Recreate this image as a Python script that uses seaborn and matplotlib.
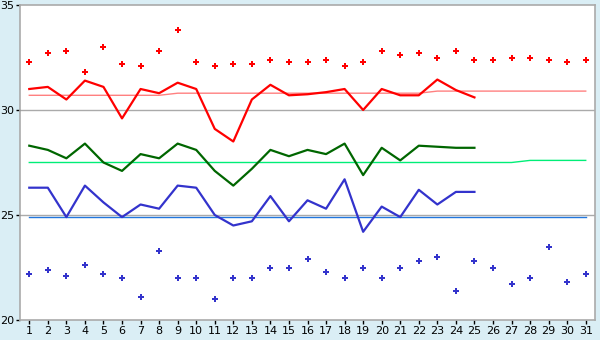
import numpy as np
import pandas as pd
from matplotlib import pyplot as plt
import seaborn as sns

days = list(range(1, 32))

# daily record highs (red dots) and record lows (blue dots)
rec_high = [32.3, 32.7, 32.8, 31.8, 33.0, 32.2, 32.1, 32.8, 33.8, 32.3,
            32.1, 32.2, 32.2, 32.4, 32.3, 32.3, 32.4, 32.1, 32.3, 32.8,
            32.6, 32.7, 32.5, 32.8, 32.4, 32.4, 32.5, 32.5, 32.4, 32.3, 32.4]
rec_low = [22.2, 22.4, 22.1, 22.6, 22.2, 22.0, 21.1, 23.3, 22.0, 22.0,
           21.0, 22.0, 22.0, 22.5, 22.5, 22.9, 22.3, 22.0, 22.5, 22.0,
           22.5, 22.8, 23.0, 21.4, 22.8, 22.5, 21.7, 22.0, 23.5, 21.8, 22.2]

# observed max / mean / min (days 1-25)
obs_days = list(range(1, 26))
obs_max = [31.0, 31.1, 30.5, 31.4, 31.1, 29.6, 31.0, 30.8, 31.3, 31.0,
           29.1, 28.5, 30.5, 31.2, 30.7, 30.75, 30.85, 31.0, 30.0, 31.0,
           30.7, 30.7, 31.45, 30.95, 30.6]
obs_mean = [28.3, 28.1, 27.7, 28.4, 27.5, 27.1, 27.9, 27.7, 28.4, 28.1,
            27.1, 26.4, 27.2, 28.1, 27.8, 28.1, 27.9, 28.4, 26.9, 28.2,
            27.6, 28.3, 28.25, 28.2, 28.2]
obs_min = [26.3, 26.3, 24.9, 26.4, 25.6, 24.9, 25.5, 25.3, 26.4, 26.3,
           25.0, 24.5, 24.7, 25.9, 24.7, 25.7, 25.3, 26.7, 24.2, 25.4,
           24.9, 26.2, 25.5, 26.1, 26.1]

# climatological normals
norm_max = [30.7] * 8 + [30.8] * 14 + [30.9] * 9
norm_mean = [27.5] * 27 + [27.6] * 4
norm_min = [24.9] * 31

fig = plt.figure(figsize=(6, 3.4), dpi=100, facecolor='#daeef5')
ax = fig.add_axes([20 / 600, 20 / 340, 575 / 600, 315 / 340])
ax.set_facecolor('white')

ax.axhline(25, color='#aaaaaa', lw=1, zorder=0)
ax.axhline(30, color='#aaaaaa', lw=1, zorder=0)

sns.lineplot(x=days, y=norm_max, ax=ax, color='#ff8080', lw=1)
sns.lineplot(x=days, y=norm_mean, ax=ax, color='#00ee77', lw=1)
sns.lineplot(x=days, y=norm_min, ax=ax, color='#2277dd', lw=1)

sns.lineplot(x=obs_days, y=obs_max, ax=ax, color='#ff0000', lw=1.6)
sns.lineplot(x=obs_days, y=obs_mean, ax=ax, color='#006600', lw=1.6)
sns.lineplot(x=obs_days, y=obs_min, ax=ax, color='#3333cc', lw=1.6)

sns.scatterplot(x=days, y=rec_high, ax=ax, color='#ff0000', marker='P',
                s=22, linewidth=0)
sns.scatterplot(x=days, y=rec_low, ax=ax, color='#3333cc', marker='P',
                s=22, linewidth=0)

ax.set_xlim(0.5, 31.5)
ax.set_ylim(20, 35)
ax.set_xticks(days)
ax.set_yticks([20, 25, 30, 35])
ax.tick_params(axis='both', labelsize=8, color='black', length=3,
               width=1, direction='out', pad=1)
for s in ax.spines.values():
    s.set_color('#aaaaaa')
    s.set_linewidth(1.2)
ax.set_xlabel('')
ax.set_ylabel('')

plt.savefig('out.png', dpi=100, facecolor=fig.get_facecolor())
